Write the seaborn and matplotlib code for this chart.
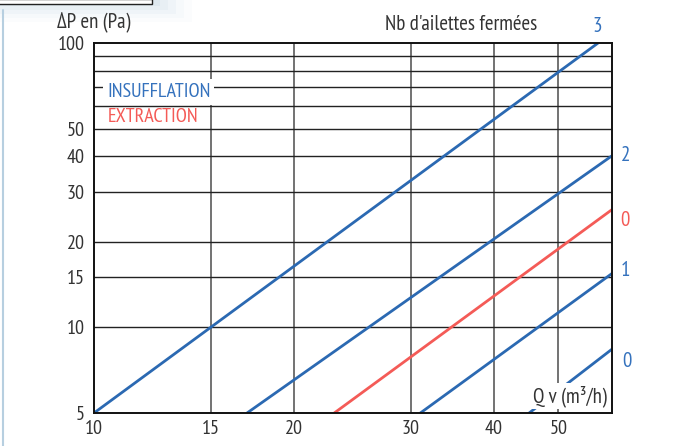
import matplotlib
matplotlib.use("Agg")
import matplotlib.pyplot as plt
import numpy as np
import pandas as pd
import seaborn as sns
from matplotlib.ticker import FixedLocator, FixedFormatter, NullLocator
from matplotlib.patches import Rectangle
from matplotlib.lines import Line2D

# ---------------- data ----------------
series_names = ["Insufflation 3", "Insufflation 2", "Extraction 0", "Insufflation 1", "Insufflation 0"]
q_ins3 = [10.0, 57.4]
dp_ins3 = [5.0, 100.0]
q_ins2 = [17.0, 60.3]
dp_ins2 = [5.0, 40.2]
q_ext0 = [23.0, 60.3]
dp_ext0 = [5.0, 26.0]
q_ins1 = [31.0, 60.3]
dp_ins1 = [5.0, 15.5]
q_ins0 = [45.2, 60.3]
dp_ins0 = [5.0, 8.4]
end_labels = ["3", "2", "0", "1", "0"]

x_ticks = [10, 15, 20, 30, 40, 50]
y_ticks = [5, 10, 15, 20, 30, 40, 50, 100]
x_grid = [15, 20, 30, 40, 50]
y_grid = [10, 15, 20, 30, 40, 50, 60, 70, 80, 90]

BLUE = "#2b69b2"
BLUE_TXT = "#3572bd"
RED = "#f45b57"
GREY_TXT = "#333333"

qs = [q_ins3, q_ins2, q_ext0, q_ins1, q_ins0]
dps = [dp_ins3, dp_ins2, dp_ext0, dp_ins1, dp_ins0]
rows = []
for name, q, dp in zip(series_names, qs, dps):
    for a, b in zip(q, dp):
        rows.append({"serie": name, "Q": a, "dP": b})
df = pd.DataFrame(rows)
palette = {n: (RED if n.startswith("Extraction") else BLUE) for n in series_names}

# ---------------- style ----------------
sns.set_style("white")
plt.rcParams["font.family"] = ["PT Sans Narrow", "DejaVu Sans"]

W, H = 675, 446
fig = plt.figure(figsize=(W / 100, H / 100), dpi=100)
fig.patch.set_facecolor("white")
L, R, T, B = 94, 612.3, 43, 413
ax = fig.add_axes([L / W, 1 - B / H, (R - L) / W, (B - T) / H])

sns.lineplot(data=df, x="Q", y="dP", hue="serie", palette=palette, ax=ax,
             linewidth=2.0, legend=False, zorder=4, clip_on=True)

ax.set_xscale("log")
ax.set_yscale("log")
ax.set_xlim(10, 60.3)
ax.set_ylim(5, 100)

for g in x_grid:
    ax.axvline(g, color="#5a5a5a", lw=1.2, zorder=1)
for g in y_grid:
    ax.axhline(g, color="#222222", lw=1.0, zorder=1)

ax.xaxis.set_major_locator(FixedLocator(x_ticks))
ax.xaxis.set_major_formatter(FixedFormatter([str(v) for v in x_ticks]))
ax.xaxis.set_minor_locator(NullLocator())
ax.yaxis.set_major_locator(FixedLocator(y_ticks))
ax.yaxis.set_major_formatter(FixedFormatter([str(v) for v in y_ticks]))
ax.yaxis.set_minor_locator(NullLocator())
ax.tick_params(axis="both", direction="in", length=26, width=1.6, color="#222222",
               labelsize=14.5, labelcolor=GREY_TXT)
ax.tick_params(axis="x", pad=5)
ax.tick_params(axis="y", pad=6.5)
ax.set_xlabel("")
ax.set_ylabel("")
for s in ax.spines.values():
    s.set_visible(True)
    s.set_color("#111111")
    s.set_linewidth(1.4)
    s.set_zorder(5)

# end labels
offsets = [(-1, 5), (6, 0), (6, -8), (6, 2), (7, -9)]
for lab, q, dp, off, name in zip(end_labels, qs, dps, offsets, series_names):
    col = RED if name.startswith("Extraction") else BLUE_TXT
    va = "bottom" if lab == "3" else "center"
    ax.annotate(lab, xy=(q[-1], dp[-1]), xycoords="data", xytext=off,
                textcoords="offset points", color=col, fontsize=15,
                ha="left" if lab != "3" else "center", va=va, annotation_clip=False)

# legend-like texts
ax.annotate("INSUFFLATION", xy=(107, H - 92), xycoords="figure pixels", color=BLUE_TXT,
            fontsize=14.5, ha="left", va="center", zorder=6,
            bbox=dict(boxstyle="square,pad=0.2", fc="white", ec="none"))
ax.annotate("EXTRACTION", xy=(108, H - 117), xycoords="figure pixels", color=RED,
            fontsize=14.5, ha="left", va="center", zorder=6)
ax.annotate("Q v (m³/h)", xy=(607, H - 396), xycoords="figure pixels", color=GREY_TXT,
            fontsize=15, ha="right", va="center", zorder=6,
            bbox=dict(boxstyle="square,pad=0.12", fc="white", ec="none"))

fig.text(57 / W, 1 - 22 / H, "ΔP en (Pa)", color=GREY_TXT, fontsize=15,
         ha="left", va="center")
fig.text(537 / W, 1 - 25 / H, "Nb d'ailettes fermées", color=GREY_TXT, fontsize=15,
         ha="right", va="center")

# decorative frame pieces at top-left
for i, a in enumerate([0.10, 0.08, 0.06, 0.04, 0.03]):
    fig.add_artist(Rectangle((0, 1 - (6 + 4 * i) / H), (160 + 8 * i) / W, (6 + 4 * i) / H,
                             transform=fig.transFigure, fc="#8fb3cf", ec="none", alpha=a))
fig.add_artist(Rectangle((-0.01, 1 - 3.5 / H), 152 / W + 0.01, 4 / H,
                         transform=fig.transFigure, fc="white", ec="#222222", lw=1.0))
fig.add_artist(Line2D([2.5 / W, 2.5 / W], [0, 1 - 10 / H], transform=fig.transFigure,
                      color="#b7cfe0", lw=1.5))

fig.savefig("out.png", dpi=100)
